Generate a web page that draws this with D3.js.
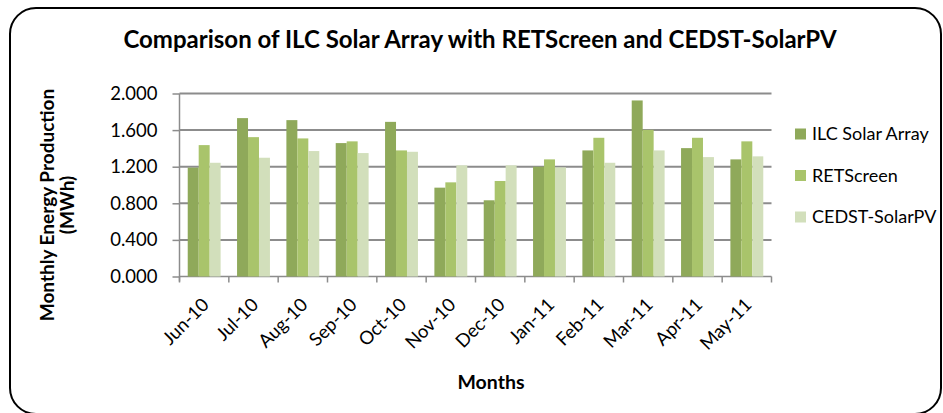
<!DOCTYPE html>
<html lang="en">
<head>
    <meta charset="UTF-8">
    <title>ILC Solar Array comparison</title>
    <script src="https://d3js.org/d3.v7.min.js"></script>
    <style>
        body { margin: 0; background: white; }
        svg text { font-family: Lato, 'Open Sans', sans-serif; fill: black; }
    </style>
</head>
<body>
    <div id="chart"></div>
    <script>
        // data (MWh)
        const months = ["Jun-10", "Jul-10", "Aug-10", "Sep-10", "Oct-10", "Nov-10",
                        "Dec-10", "Jan-11", "Feb-11", "Mar-11", "Apr-11", "May-11"];
        const seriesNames = ["ILC Solar Array", "RETScreen", "CEDST-SolarPV"];
        const ilc    = [1.190, 1.731, 1.709, 1.458, 1.690, 0.971, 0.833, 1.200, 1.378, 1.924, 1.403, 1.280];
        const ret    = [1.436, 1.523, 1.509, 1.477, 1.378, 1.029, 1.044, 1.280, 1.516, 1.603, 1.516, 1.477];
        const cedst  = [1.243, 1.298, 1.371, 1.349, 1.363, 1.215, 1.215, 1.193, 1.243, 1.378, 1.305, 1.313];
        const yTicks = [0, 0.4, 0.8, 1.2, 1.6, 2.0];
        const colors = ["#8fa95a", "#a9c46b", "#d2dfbb"];

        const W = 943, H = 413;
        const plot = {left: 179.5, right: 771.5, top: 93.5, bottom: 276.5};

        const svg = d3.select("#chart").append("svg")
            .attr("width", W)
            .attr("height", H);

        // rounded chart frame
        svg.append("rect")
            .attr("x", 10).attr("y", 8)
            .attr("width", 931).attr("height", 406)
            .attr("rx", 26).attr("ry", 26)
            .attr("fill", "white")
            .attr("stroke", "black")
            .attr("stroke-width", 2);

        const x = d3.scaleBand().domain(months).range([plot.left, plot.right]);
        const x1 = d3.scaleBand().domain(seriesNames).range([0, x.bandwidth()]).paddingOuter(0.75);
        const y = d3.scaleLinear().domain([0, 2]).range([plot.bottom, plot.top]);

        // gridlines
        svg.append("g").selectAll("line")
            .data(yTicks.filter(d => d > 0))
            .join("line")
                .attr("x1", plot.left).attr("x2", plot.right)
                .attr("y1", d => y(d)).attr("y2", d => y(d))
                .attr("stroke", "#8c8c8c")
                .attr("stroke-width", 2);

        // y axis
        const yAxis = svg.append("g")
            .attr("transform", `translate(${plot.left},0)`)
            .call(d3.axisLeft(y).tickValues(yTicks).tickFormat(d3.format(".3f")).tickSize(7).tickPadding(15));
        yAxis.select(".domain").attr("stroke", "#8c8c8c").attr("stroke-width", 1.5)
            .attr("d", `M0,${plot.top}V${plot.bottom + 5}`);
        yAxis.selectAll(".tick line").attr("stroke", "#8c8c8c").attr("stroke-width", 1.5);
        yAxis.selectAll("text").style("font-size", "18.5px").attr("fill", "black");

        // x axis line and ticks at band edges
        const xg = svg.append("g");
        xg.append("line")
            .attr("x1", plot.left).attr("x2", plot.right)
            .attr("y1", plot.bottom).attr("y2", plot.bottom)
            .attr("stroke", "#8c8c8c").attr("stroke-width", 1.5);
        const edges = months.map(m => x(m)).concat([x(months[months.length - 1]) + x.bandwidth()]);
        xg.selectAll("line.tk")
            .data(edges)
            .join("line")
                .attr("class", "tk")
                .attr("x1", d => d).attr("x2", d => d)
                .attr("y1", plot.bottom).attr("y2", plot.bottom + 6)
                .attr("stroke", "#8c8c8c").attr("stroke-width", 1.5);

        // bars
        const rows = months.map((m, i) => ({month: m, values: [ilc[i], ret[i], cedst[i]]}));
        const groups = svg.append("g").selectAll("g")
            .data(rows)
            .join("g")
                .attr("transform", d => `translate(${x(d.month)},0)`);
        groups.selectAll("rect")
            .data(d => d.values.map((v, k) => ({name: seriesNames[k], value: v, k: k})))
            .join("rect")
                .attr("x", d => x1(d.name))
                .attr("width", x1.bandwidth())
                .attr("y", d => y(d.value))
                .attr("height", d => y(0) - y(d.value))
                .attr("fill", d => colors[d.k]);

        // month labels, rotated
        svg.append("g").selectAll("text")
            .data(months)
            .join("text")
                .attr("text-anchor", "end")
                .attr("transform", d => `translate(${x(d) + x.bandwidth() / 2 + 6},306) rotate(-45)`)
                .style("font-size", "18.5px")
                .text(d => d);

        // titles
        svg.append("text")
            .attr("x", 480).attr("y", 48)
            .attr("text-anchor", "middle")
            .style("font-size", "24px").style("font-weight", "bold")
            .text("Comparison of ILC Solar Array with RETScreen and CEDST-SolarPV");

        svg.append("text")
            .attr("x", 491).attr("y", 389)
            .attr("text-anchor", "middle")
            .style("font-size", "19.5px").style("font-weight", "bold")
            .text("Months");

        const yTitle = svg.append("text")
            .attr("transform", `translate(53.5,205) rotate(-90)`)
            .attr("text-anchor", "middle")
            .style("font-size", "19px").style("font-weight", "bold");
        yTitle.append("tspan").attr("x", 0).attr("y", 0).text("Monthly Energy Production");
        yTitle.append("tspan").attr("x", 0).attr("y", 20).text("(MWh)");

        // legend
        const legend = svg.append("g").selectAll("g")
            .data(seriesNames)
            .join("g")
                .attr("transform", (d, i) => `translate(795,${134 + i * 41.5})`);
        legend.append("rect")
            .attr("x", 0).attr("y", -5.5)
            .attr("width", 11).attr("height", 11)
            .attr("fill", (d, i) => colors[i]);
        legend.append("text")
            .attr("x", 17).attr("y", 0).attr("dy", "0.35em")
            .style("font-size", "18px")
            .text(d => d);
    </script>
</body>
</html>
